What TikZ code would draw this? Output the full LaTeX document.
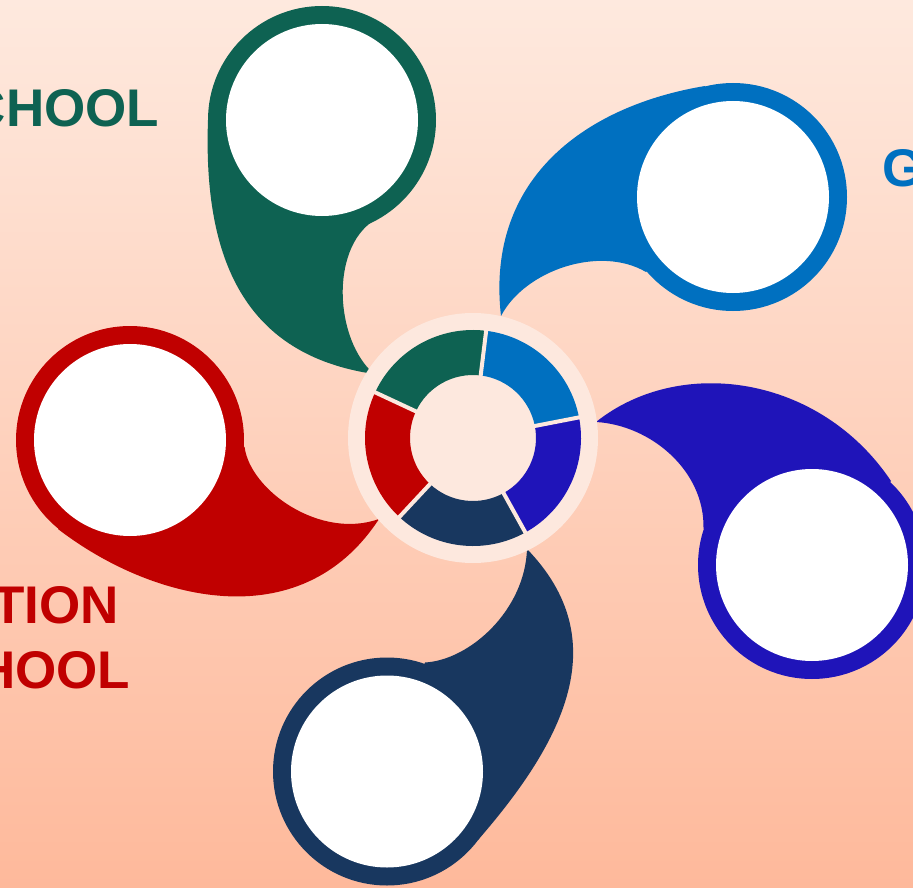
\documentclass[tikz,border=0pt]{standalone}
\usepackage{fontspec}
\setmainfont{Liberation Sans}
\usetikzlibrary{calc}

\definecolor{bgtop}{RGB}{254,233,222}
\definecolor{bgbot}{RGB}{254,185,155}
\definecolor{pale}{RGB}{253,232,222}
\definecolor{petalgreen}{RGB}{14,98,82}
\definecolor{petalblue}{RGB}{0,112,192}
\definecolor{petalindigo}{RGB}{31,20,185}
\definecolor{petalnavy}{RGB}{24,55,95}
\definecolor{petalred}{RGB}{192,0,0}

\tikzset{
  headline/.style={font=\bfseries\fontsize{53}{65}\selectfont, inner sep=0pt},
  gap/.style={draw=pale, line width=4pt}
}

\begin{document}
\begin{tikzpicture}[x=1pt,y=-1pt]
      \useasboundingbox (0,0) rectangle (913,888);
      \clip (0,0) rectangle (913,888);
      \shade[top color=bgtop, bottom color=bgbot] (0,0) rectangle (913,888);

      \coordinate (ctr) at (473,438);

      % green
      \fill[petalgreen] (322,120) circle (114pt);
      \fill[petalgreen] (208,120) .. controls (203,260) and (245,355) .. (374,374)
            .. controls (335,340) and (330,250) .. (373,221) -- (322,120) -- cycle;
      \fill[white] (322,120) circle (96pt);

      % blue
      \fill[petalblue] (733,197) circle (114pt);
      \fill[petalblue] (705,86) .. controls (590,105) and (485,175) .. (501,316)
            .. controls (525,270) and (600,245) .. (646,272) -- (733,197) -- cycle;
      \fill[white] (733,197) circle (96pt);

      % indigo
      \fill[petalindigo] (812,565) circle (114pt);
      \fill[petalindigo] (596,422) .. controls (680,355) and (820,375) .. (891,481)
            -- (812,565) -- (703.5,529) .. controls (705,470) and (650,425) .. (596,422) -- cycle;
      \fill[white] (812,565) circle (96pt);

      % navy
      \fill[petalnavy] (387,771.5) circle (114pt);
      \fill[petalnavy] (527,549) .. controls (615,640) and (565,740) .. (478,840)
            -- (387,771.5) -- (425,662.5) .. controls (470,660) and (525,610) .. (527,549) -- cycle;
      \fill[white] (387,771.5) circle (96pt);

      % red
      \fill[petalred] (130,440) circle (114pt);
      \fill[petalred] (58,529) .. controls (150,600) and (300,640) .. (379,519)
            .. controls (320,540) and (250,490) .. (244.6,447) -- (130,440) -- cycle;
      \fill[white] (130,440) circle (96pt);

      % hub
      \fill[pale] (ctr) circle (125pt);
      \foreach \a/\c in {11/petalblue, -61/petalindigo, -133/petalnavy, 155/petalred, 83/petalgreen}
            \fill[\c] ($(ctr)+(\a:63pt)$) -- ($(ctr)+(\a:108pt)$)
                  arc[start angle=\a, end angle=\a+72, radius=108pt]
                  -- ($(ctr)+(\a+72:63pt)$)
                  arc[start angle=\a+72, end angle=\a, radius=63pt] -- cycle;
      \foreach \a in {11,83,155,-133,-61}
            \draw[gap] ($(ctr)+(\a:60pt)$) -- ($(ctr)+(\a:112pt)$);

      \node[headline, text=petalgreen, anchor=base east] (school) at (159.5,127) {CHOOL};
      \node[headline, text=petalblue, anchor=base west] (g) at (882.7,186) {G};
      \node[headline, text=petalred, anchor=base east] (tion) at (119,623) {TION};
      \node[headline, text=petalred, anchor=base east] (hool) at (130.5,688) {HOOL};
\end{tikzpicture}
\end{document}
